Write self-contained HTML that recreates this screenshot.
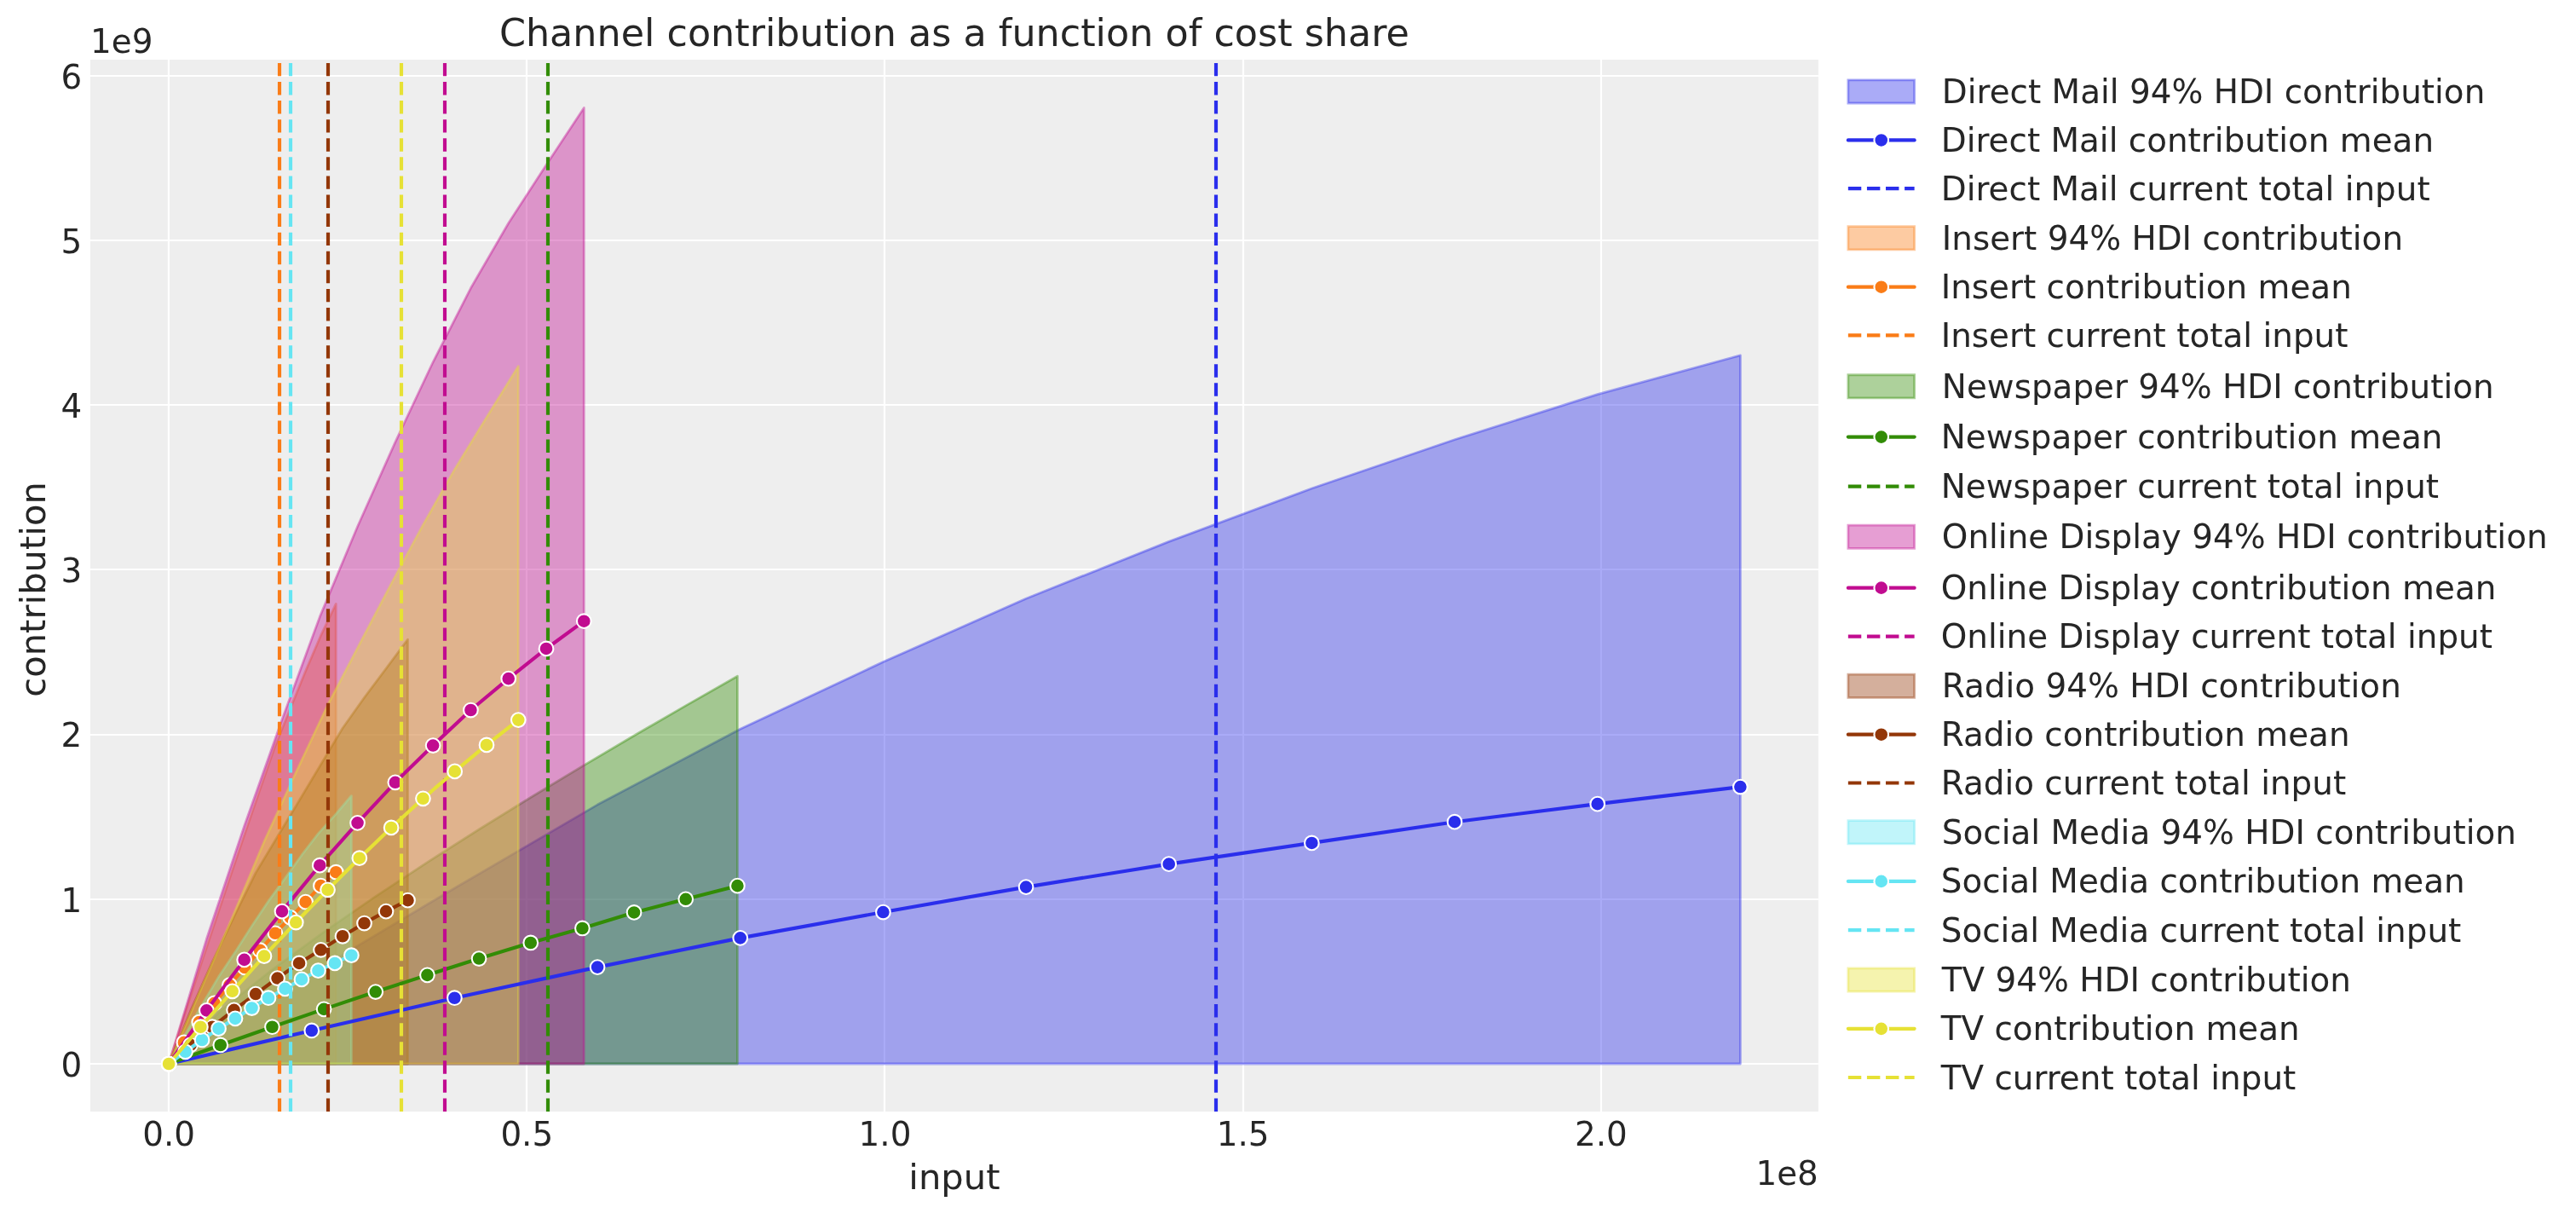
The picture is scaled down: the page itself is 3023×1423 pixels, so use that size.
<!DOCTYPE html>
<html><head><meta charset="utf-8"><title>Channel contribution as a function of cost share</title><style>html,body{margin:0;padding:0;background:#fff;overflow:hidden;}svg{display:block;will-change:transform;}text{font-family:"DejaVu Sans","Liberation Sans",sans-serif;}</style></head>
<body>
<svg width="3023" height="1423" viewBox="0 0 1088.28 512.28" version="1.1">
<defs>
<style type="text/css">*{stroke-linejoin: round; stroke-linecap: butt}</style>
</defs>
<g id="figure_1">
<g id="patch_1">
<path d="M 0 512.28 
L 1088.28 512.28 
L 1088.28 0 
L 0 0 
z
" style="fill: #ffffff"/>
</g>
<g id="axes_1">
<g id="patch_2">
<path d="M 38.16 469.404 
L 768.186 469.404 
L 768.186 25.2 
L 38.16 25.2 
z
" style="fill: #eeeeee"/>
</g>
<g id="line2d_1">
<path d="M 71.28 469.404 
L 71.28 25.2 
" clip-path="url(#p903fa9d953)" style="fill: none; stroke: #ffffff; stroke-width: 0.8; stroke-linecap: square"/>
</g>
<g id="line2d_2">
<path d="M 222.48 469.404 
L 222.48 25.2 
" clip-path="url(#p903fa9d953)" style="fill: none; stroke: #ffffff; stroke-width: 0.8; stroke-linecap: square"/>
</g>
<g id="line2d_3">
<path d="M 373.68 469.404 
L 373.68 25.2 
" clip-path="url(#p903fa9d953)" style="fill: none; stroke: #ffffff; stroke-width: 0.8; stroke-linecap: square"/>
</g>
<g id="line2d_4">
<path d="M 525.24 469.404 
L 525.24 25.2 
" clip-path="url(#p903fa9d953)" style="fill: none; stroke: #ffffff; stroke-width: 0.8; stroke-linecap: square"/>
</g>
<g id="line2d_5">
<path d="M 676.44 469.404 
L 676.44 25.2 
" clip-path="url(#p903fa9d953)" style="fill: none; stroke: #ffffff; stroke-width: 0.8; stroke-linecap: square"/>
</g>
<g id="line2d_6">
<path d="M 38.16 449.28 
L 768.186 449.28 
" clip-path="url(#p903fa9d953)" style="fill: none; stroke: #ffffff; stroke-width: 0.8; stroke-linecap: square"/>
</g>
<g id="line2d_7">
<path d="M 38.16 379.8 
L 768.186 379.8 
" clip-path="url(#p903fa9d953)" style="fill: none; stroke: #ffffff; stroke-width: 0.8; stroke-linecap: square"/>
</g>
<g id="line2d_8">
<path d="M 38.16 310.32 
L 768.186 310.32 
" clip-path="url(#p903fa9d953)" style="fill: none; stroke: #ffffff; stroke-width: 0.8; stroke-linecap: square"/>
</g>
<g id="line2d_9">
<path d="M 38.16 240.48 
L 768.186 240.48 
" clip-path="url(#p903fa9d953)" style="fill: none; stroke: #ffffff; stroke-width: 0.8; stroke-linecap: square"/>
</g>
<g id="line2d_10">
<path d="M 38.16 171 
L 768.186 171 
" clip-path="url(#p903fa9d953)" style="fill: none; stroke: #ffffff; stroke-width: 0.8; stroke-linecap: square"/>
</g>
<g id="line2d_11">
<path d="M 38.16 101.52 
L 768.186 101.52 
" clip-path="url(#p903fa9d953)" style="fill: none; stroke: #ffffff; stroke-width: 0.8; stroke-linecap: square"/>
</g>
<g id="line2d_12">
<path d="M 38.16 32.04 
L 768.186 32.04 
" clip-path="url(#p903fa9d953)" style="fill: none; stroke: #ffffff; stroke-width: 0.8; stroke-linecap: square"/>
</g>
<g id="matplotlib.axis_1">
<g id="xtick_1">
<g id="line2d_13"/>
<g id="text_1">
<text style="font-size: 14px; font-family: 'DejaVu Sans', 'Liberation Sans', sans-serif; text-anchor: middle; fill: #262626" x="71.316" y="483.901813" transform="rotate(-0 71.316 483.901813)">0.0</text>
</g>
</g>
<g id="xtick_2">
<g id="line2d_14"/>
<g id="text_2">
<text style="font-size: 14px; font-family: 'DejaVu Sans', 'Liberation Sans', sans-serif; text-anchor: middle; fill: #262626" x="222.588" y="483.901813" transform="rotate(-0 222.588 483.901813)">0.5</text>
</g>
</g>
<g id="xtick_3">
<g id="line2d_15"/>
<g id="text_3">
<text style="font-size: 14px; font-family: 'DejaVu Sans', 'Liberation Sans', sans-serif; text-anchor: middle; fill: #262626" x="373.86" y="483.901813" transform="rotate(-0 373.86 483.901813)">1.0</text>
</g>
</g>
<g id="xtick_4">
<g id="line2d_16"/>
<g id="text_4">
<text style="font-size: 14px; font-family: 'DejaVu Sans', 'Liberation Sans', sans-serif; text-anchor: middle; fill: #262626" x="525.132" y="483.901813" transform="rotate(-0 525.132 483.901813)">1.5</text>
</g>
</g>
<g id="xtick_5">
<g id="line2d_17"/>
<g id="text_5">
<text style="font-size: 14px; font-family: 'DejaVu Sans', 'Liberation Sans', sans-serif; text-anchor: middle; fill: #262626" x="676.404" y="483.901813" transform="rotate(-0 676.404 483.901813)">2.0</text>
</g>
</g>
<g id="text_6">
<text style="font-size: 15px; font-family: 'DejaVu Sans', 'Liberation Sans', sans-serif; text-anchor: middle; fill: #262626" x="403.173" y="502.211031" transform="rotate(-0 403.173 502.211031)">input</text>
</g>
<g id="text_7">
<text style="font-size: 14px; font-family: 'DejaVu Sans', 'Liberation Sans', sans-serif; text-anchor: end; fill: #262626" x="768.186" y="500.451188" transform="rotate(-0 768.186 500.451188)">1e8</text>
</g>
</g>
<g id="matplotlib.axis_2">
<g id="ytick_1">
<g id="line2d_18"/>
<g id="text_8">
<text style="font-size: 14px; font-family: 'DejaVu Sans', 'Liberation Sans', sans-serif; text-anchor: end; fill: #262626" x="34.66" y="454.598906" transform="rotate(-0 34.66 454.598906)">0</text>
</g>
</g>
<g id="ytick_2">
<g id="line2d_19"/>
<g id="text_9">
<text style="font-size: 14px; font-family: 'DejaVu Sans', 'Liberation Sans', sans-serif; text-anchor: end; fill: #262626" x="34.66" y="385.046906" transform="rotate(-0 34.66 385.046906)">1</text>
</g>
</g>
<g id="ytick_3">
<g id="line2d_20"/>
<g id="text_10">
<text style="font-size: 14px; font-family: 'DejaVu Sans', 'Liberation Sans', sans-serif; text-anchor: end; fill: #262626" x="34.66" y="315.494906" transform="rotate(-0 34.66 315.494906)">2</text>
</g>
</g>
<g id="ytick_4">
<g id="line2d_21"/>
<g id="text_11">
<text style="font-size: 14px; font-family: 'DejaVu Sans', 'Liberation Sans', sans-serif; text-anchor: end; fill: #262626" x="34.66" y="245.942906" transform="rotate(-0 34.66 245.942906)">3</text>
</g>
</g>
<g id="ytick_5">
<g id="line2d_22"/>
<g id="text_12">
<text style="font-size: 14px; font-family: 'DejaVu Sans', 'Liberation Sans', sans-serif; text-anchor: end; fill: #262626" x="34.66" y="176.390906" transform="rotate(-0 34.66 176.390906)">4</text>
</g>
</g>
<g id="ytick_6">
<g id="line2d_23"/>
<g id="text_13">
<text style="font-size: 14px; font-family: 'DejaVu Sans', 'Liberation Sans', sans-serif; text-anchor: end; fill: #262626" x="34.66" y="106.838906" transform="rotate(-0 34.66 106.838906)">5</text>
</g>
</g>
<g id="ytick_7">
<g id="line2d_24"/>
<g id="text_14">
<text style="font-size: 14px; font-family: 'DejaVu Sans', 'Liberation Sans', sans-serif; text-anchor: end; fill: #262626" x="34.66" y="37.286906" transform="rotate(-0 34.66 37.286906)">6</text>
</g>
</g>
<g id="text_15">
<text style="font-size: 15px; font-family: 'DejaVu Sans', 'Liberation Sans', sans-serif; text-anchor: middle; fill: #262626" x="18.920969" y="248.922" transform="rotate(-90 18.920969 248.922)">contribution</text>
</g>
<g id="text_16">
<text style="font-size: 14px; font-family: 'DejaVu Sans', 'Liberation Sans', sans-serif; text-anchor: start; fill: #262626" x="38.16" y="22.2" transform="rotate(-0 38.16 22.2)">1e9</text>
</g>
</g>
<g id="FillBetweenPolyCollection_1">
<defs>
<path id="m16084ed990" d="M 71.316 -63 
L 71.316 -63 
L 131.673273 -63 
L 192.030545 -63 
L 252.387818 -63 
L 312.745091 -63 
L 373.102364 -63 
L 433.459636 -63 
L 493.816909 -63 
L 554.174182 -63 
L 614.531455 -63 
L 674.888727 -63 
L 735.246 -63 
L 735.246 -362.212704 
L 735.246 -362.212704 
L 674.888727 -345.72888 
L 614.531455 -326.60208 
L 554.174182 -306.014688 
L 493.816909 -283.549392 
L 433.459636 -259.4844 
L 373.102364 -232.70688 
L 312.745091 -204.399216 
L 252.387818 -172.405296 
L 192.030545 -137.142432 
L 131.673273 -101.2536 
L 71.316 -63 
z
" style="stroke: #2a2eec; stroke-opacity: 0.4"/>
</defs>
<g clip-path="url(#p903fa9d953)">
<use href="#m16084ed990" x="0" y="512.28" style="fill: #2a2eec; fill-opacity: 0.4; stroke: #2a2eec; stroke-opacity: 0.4"/>
</g>
</g>
<g id="FillBetweenPolyCollection_2">
<defs>
<path id="m55e4fa1a22" d="M 71.316 -63 
L 71.316 -63 
L 77.735455 -63 
L 84.154909 -63 
L 90.574364 -63 
L 96.993818 -63 
L 103.413273 -63 
L 109.832727 -63 
L 116.252182 -63 
L 122.671636 -63 
L 129.091091 -63 
L 135.510545 -63 
L 141.93 -63 
L 141.93 -257.258736 
L 141.93 -257.258736 
L 135.510545 -243.8352 
L 129.091091 -228.88152 
L 122.671636 -213.093216 
L 116.252182 -197.23536 
L 109.832727 -178.873632 
L 103.413273 -160.164144 
L 96.993818 -141.315552 
L 90.574364 -122.1192 
L 84.154909 -102.853296 
L 77.735455 -83.17008 
L 71.316 -63 
z
" style="stroke: #fa7c17; stroke-opacity: 0.4"/>
</defs>
<g clip-path="url(#p903fa9d953)">
<use href="#m55e4fa1a22" x="0" y="512.28" style="fill: #fa7c17; fill-opacity: 0.4; stroke: #fa7c17; stroke-opacity: 0.4"/>
</g>
</g>
<g id="FillBetweenPolyCollection_3">
<defs>
<path id="m92c9b33354" d="M 71.316 -63 
L 71.316 -63 
L 93.154909 -63 
L 114.993818 -63 
L 136.832727 -63 
L 158.671636 -63 
L 180.510545 -63 
L 202.349455 -63 
L 224.188364 -63 
L 246.027273 -63 
L 267.866182 -63 
L 289.705091 -63 
L 311.544 -63 
L 311.544 -226.70649 
L 311.544 -226.70649 
L 289.705091 -214.25508 
L 267.866182 -201.589795 
L 246.027273 -188.682456 
L 224.188364 -175.497104 
L 202.349455 -161.986395 
L 180.510545 -148.085405 
L 158.671636 -133.700057 
L 136.832727 -118.682742 
L 114.993818 -102.770849 
L 93.154909 -85.372266 
L 71.316 -63 
z
" style="stroke: #328c06; stroke-opacity: 0.4"/>
</defs>
<g clip-path="url(#p903fa9d953)">
<use href="#m92c9b33354" x="0" y="512.28" style="fill: #328c06; fill-opacity: 0.4; stroke: #328c06; stroke-opacity: 0.4"/>
</g>
</g>
<g id="FillBetweenPolyCollection_4">
<defs>
<path id="mc65c5cf521" d="M 71.316 -63 
L 71.316 -63 
L 87.260727 -63 
L 103.205455 -63 
L 119.150182 -63 
L 135.094909 -63 
L 151.039636 -63 
L 166.984364 -63 
L 182.929091 -63 
L 198.873818 -63 
L 214.818545 -63 
L 230.763273 -63 
L 246.708 -63 
L 246.708 -466.74936 
L 246.708 -466.74936 
L 230.763273 -442.614816 
L 214.818545 -418.06296 
L 198.873818 -390.58992 
L 182.929091 -359.361072 
L 166.984364 -325.5588 
L 151.039636 -289.878624 
L 135.094909 -251.764128 
L 119.150182 -208.36368 
L 103.205455 -163.433088 
L 87.260727 -115.720416 
L 71.316 -63 
z
" style="stroke: #c10c90; stroke-opacity: 0.4"/>
</defs>
<g clip-path="url(#p903fa9d953)">
<use href="#mc65c5cf521" x="0" y="512.28" style="fill: #c10c90; fill-opacity: 0.4; stroke: #c10c90; stroke-opacity: 0.4"/>
</g>
</g>
<g id="FillBetweenPolyCollection_5">
<defs>
<path id="m451c9147a2" d="M 71.316 -63 
L 71.316 -63 
L 80.492727 -63 
L 89.669455 -63 
L 98.846182 -63 
L 108.022909 -63 
L 117.199636 -63 
L 126.376364 -63 
L 135.553091 -63 
L 144.729818 -63 
L 153.906545 -63 
L 163.083273 -63 
L 172.26 -63 
L 172.26 -242.235504 
L 172.26 -242.235504 
L 163.083273 -229.9248 
L 153.906545 -217.683648 
L 144.729818 -204.746976 
L 135.553091 -189.445536 
L 126.376364 -174.144096 
L 117.199636 -158.912208 
L 108.022909 -143.68032 
L 98.846182 -125.179488 
L 89.669455 -105.913584 
L 80.492727 -85.25664 
L 71.316 -63 
z
" style="stroke: #933708; stroke-opacity: 0.4"/>
</defs>
<g clip-path="url(#p903fa9d953)">
<use href="#m451c9147a2" x="0" y="512.28" style="fill: #933708; fill-opacity: 0.4; stroke: #933708; stroke-opacity: 0.4"/>
</g>
</g>
<g id="FillBetweenPolyCollection_6">
<defs>
<path id="me2ba75fa4d" d="M 71.316 -63 
L 71.316 -63 
L 78.329455 -63 
L 85.342909 -63 
L 92.356364 -63 
L 99.369818 -63 
L 106.383273 -63 
L 113.396727 -63 
L 120.410182 -63 
L 127.423636 -63 
L 134.437091 -63 
L 141.450545 -63 
L 148.464 -63 
L 148.464 -176.211877 
L 148.464 -176.211877 
L 141.450545 -167.965792 
L 134.437091 -160.235087 
L 127.423636 -151.130035 
L 120.410182 -141.337809 
L 113.396727 -131.717376 
L 106.383273 -121.237976 
L 99.369818 -110.243196 
L 92.356364 -99.763796 
L 85.342909 -87.910049 
L 78.329455 -75.626818 
L 71.316 -63 
z
" style="stroke: #65e5f3; stroke-opacity: 0.4"/>
</defs>
<g clip-path="url(#p903fa9d953)">
<use href="#me2ba75fa4d" x="0" y="512.28" style="fill: #65e5f3; fill-opacity: 0.4; stroke: #65e5f3; stroke-opacity: 0.4"/>
</g>
</g>
<g id="FillBetweenPolyCollection_7">
<defs>
<path id="m84d1ce66fc" d="M 71.316 -63 
L 71.316 -63 
L 84.740727 -63 
L 98.165455 -63 
L 111.590182 -63 
L 125.014909 -63 
L 138.439636 -63 
L 151.864364 -63 
L 165.289091 -63 
L 178.713818 -63 
L 192.138545 -63 
L 205.563273 -63 
L 218.988 -63 
L 218.988 -357.622272 
L 218.988 -357.622272 
L 205.563273 -336.061152 
L 192.138545 -314.221824 
L 178.713818 -290.643696 
L 165.289091 -265.813632 
L 151.864364 -240.218496 
L 138.439636 -214.553808 
L 125.014909 -186.10704 
L 111.590182 -156.8952 
L 98.165455 -124.90128 
L 84.740727 -94.2984 
L 71.316 -63 
z
" style="stroke: #e6e135; stroke-opacity: 0.4"/>
</defs>
<g clip-path="url(#p903fa9d953)">
<use href="#m84d1ce66fc" x="0" y="512.28" style="fill: #e6e135; fill-opacity: 0.4; stroke: #e6e135; stroke-opacity: 0.4"/>
</g>
</g>
<g id="line2d_25">
<path d="M 71.316 449.28 
L 131.673273 435.230496 
L 192.030545 421.4592 
L 252.387818 408.452976 
L 312.745091 396.142272 
L 373.102364 385.222608 
L 433.459636 374.615928 
L 493.816909 364.913424 
L 554.174182 356.010768 
L 614.531455 347.108112 
L 674.888727 339.526944 
L 735.246 332.293536 
" clip-path="url(#p903fa9d953)" style="fill: none; stroke: #2a2eec; stroke-width: 1.5; stroke-linecap: round"/>
<defs>
<path id="m1112f3b862" d="M 0 3 
C 0.795609 3 1.55874 2.683901 2.12132 2.12132 
C 2.683901 1.55874 3 0.795609 3 0 
C 3 -0.795609 2.683901 -1.55874 2.12132 -2.12132 
C 1.55874 -2.683901 0.795609 -3 0 -3 
C -0.795609 -3 -1.55874 -2.683901 -2.12132 -2.12132 
C -2.683901 -1.55874 -3 -0.795609 -3 0 
C -3 0.795609 -2.683901 1.55874 -2.12132 2.12132 
C -1.55874 2.683901 -0.795609 3 0 3 
z
" style="stroke: #ffffff; stroke-width: 0.75"/>
</defs>
<g clip-path="url(#p903fa9d953)">
<use href="#m1112f3b862" x="71.316" y="449.28" style="fill: #2a2eec; stroke: #ffffff; stroke-width: 0.75"/>
<use href="#m1112f3b862" x="131.673273" y="435.230496" style="fill: #2a2eec; stroke: #ffffff; stroke-width: 0.75"/>
<use href="#m1112f3b862" x="192.030545" y="421.4592" style="fill: #2a2eec; stroke: #ffffff; stroke-width: 0.75"/>
<use href="#m1112f3b862" x="252.387818" y="408.452976" style="fill: #2a2eec; stroke: #ffffff; stroke-width: 0.75"/>
<use href="#m1112f3b862" x="312.745091" y="396.142272" style="fill: #2a2eec; stroke: #ffffff; stroke-width: 0.75"/>
<use href="#m1112f3b862" x="373.102364" y="385.222608" style="fill: #2a2eec; stroke: #ffffff; stroke-width: 0.75"/>
<use href="#m1112f3b862" x="433.459636" y="374.615928" style="fill: #2a2eec; stroke: #ffffff; stroke-width: 0.75"/>
<use href="#m1112f3b862" x="493.816909" y="364.913424" style="fill: #2a2eec; stroke: #ffffff; stroke-width: 0.75"/>
<use href="#m1112f3b862" x="554.174182" y="356.010768" style="fill: #2a2eec; stroke: #ffffff; stroke-width: 0.75"/>
<use href="#m1112f3b862" x="614.531455" y="347.108112" style="fill: #2a2eec; stroke: #ffffff; stroke-width: 0.75"/>
<use href="#m1112f3b862" x="674.888727" y="339.526944" style="fill: #2a2eec; stroke: #ffffff; stroke-width: 0.75"/>
<use href="#m1112f3b862" x="735.246" y="332.293536" style="fill: #2a2eec; stroke: #ffffff; stroke-width: 0.75"/>
</g>
</g>
<g id="line2d_26">
<path d="M 513.72 469.404 
L 513.72 25.2 
" clip-path="url(#p903fa9d953)" style="fill: none; stroke-dasharray: 5.55,2.4; stroke-dashoffset: 0; stroke: #2a2eec; stroke-width: 1.5"/>
</g>
<g id="line2d_27">
<path d="M 71.316 449.28 
L 77.735455 440.23824 
L 84.154909 431.683344 
L 90.574364 423.684864 
L 96.993818 416.034144 
L 103.413273 408.59208 
L 109.832727 401.28912 
L 116.252182 394.125264 
L 122.671636 387.517824 
L 129.091091 380.910384 
L 135.510545 374.094288 
L 141.93 368.356248 
" clip-path="url(#p903fa9d953)" style="fill: none; stroke: #fa7c17; stroke-width: 1.5; stroke-linecap: round"/>
<defs>
<path id="m5bd5c11e2f" d="M 0 3 
C 0.795609 3 1.55874 2.683901 2.12132 2.12132 
C 2.683901 1.55874 3 0.795609 3 0 
C 3 -0.795609 2.683901 -1.55874 2.12132 -2.12132 
C 1.55874 -2.683901 0.795609 -3 0 -3 
C -0.795609 -3 -1.55874 -2.683901 -2.12132 -2.12132 
C -2.683901 -1.55874 -3 -0.795609 -3 0 
C -3 0.795609 -2.683901 1.55874 -2.12132 2.12132 
C -1.55874 2.683901 -0.795609 3 0 3 
z
" style="stroke: #ffffff; stroke-width: 0.75"/>
</defs>
<g clip-path="url(#p903fa9d953)">
<use href="#m5bd5c11e2f" x="71.316" y="449.28" style="fill: #fa7c17; stroke: #ffffff; stroke-width: 0.75"/>
<use href="#m5bd5c11e2f" x="77.735455" y="440.23824" style="fill: #fa7c17; stroke: #ffffff; stroke-width: 0.75"/>
<use href="#m5bd5c11e2f" x="84.154909" y="431.683344" style="fill: #fa7c17; stroke: #ffffff; stroke-width: 0.75"/>
<use href="#m5bd5c11e2f" x="90.574364" y="423.684864" style="fill: #fa7c17; stroke: #ffffff; stroke-width: 0.75"/>
<use href="#m5bd5c11e2f" x="96.993818" y="416.034144" style="fill: #fa7c17; stroke: #ffffff; stroke-width: 0.75"/>
<use href="#m5bd5c11e2f" x="103.413273" y="408.59208" style="fill: #fa7c17; stroke: #ffffff; stroke-width: 0.75"/>
<use href="#m5bd5c11e2f" x="109.832727" y="401.28912" style="fill: #fa7c17; stroke: #ffffff; stroke-width: 0.75"/>
<use href="#m5bd5c11e2f" x="116.252182" y="394.125264" style="fill: #fa7c17; stroke: #ffffff; stroke-width: 0.75"/>
<use href="#m5bd5c11e2f" x="122.671636" y="387.517824" style="fill: #fa7c17; stroke: #ffffff; stroke-width: 0.75"/>
<use href="#m5bd5c11e2f" x="129.091091" y="380.910384" style="fill: #fa7c17; stroke: #ffffff; stroke-width: 0.75"/>
<use href="#m5bd5c11e2f" x="135.510545" y="374.094288" style="fill: #fa7c17; stroke: #ffffff; stroke-width: 0.75"/>
<use href="#m5bd5c11e2f" x="141.93" y="368.356248" style="fill: #fa7c17; stroke: #ffffff; stroke-width: 0.75"/>
</g>
</g>
<g id="line2d_28">
<path d="M 118.08 469.404 
L 118.08 25.2 
" clip-path="url(#p903fa9d953)" style="fill: none; stroke-dasharray: 5.55,2.4; stroke-dashoffset: 0; stroke: #fa7c17; stroke-width: 1.5"/>
</g>
<g id="line2d_29">
<path d="M 71.316 449.28 
L 93.154909 441.351072 
L 114.993818 433.700352 
L 136.832727 426.188736 
L 158.671636 418.885776 
L 180.510545 411.791472 
L 202.349455 404.836272 
L 224.188364 398.15928 
L 246.027273 392.038704 
L 267.866182 385.361712 
L 289.705091 379.728 
L 311.544 374.094288 
" clip-path="url(#p903fa9d953)" style="fill: none; stroke: #328c06; stroke-width: 1.5; stroke-linecap: round"/>
<defs>
<path id="md023e32610" d="M 0 3 
C 0.795609 3 1.55874 2.683901 2.12132 2.12132 
C 2.683901 1.55874 3 0.795609 3 0 
C 3 -0.795609 2.683901 -1.55874 2.12132 -2.12132 
C 1.55874 -2.683901 0.795609 -3 0 -3 
C -0.795609 -3 -1.55874 -2.683901 -2.12132 -2.12132 
C -2.683901 -1.55874 -3 -0.795609 -3 0 
C -3 0.795609 -2.683901 1.55874 -2.12132 2.12132 
C -1.55874 2.683901 -0.795609 3 0 3 
z
" style="stroke: #ffffff; stroke-width: 0.75"/>
</defs>
<g clip-path="url(#p903fa9d953)">
<use href="#md023e32610" x="71.316" y="449.28" style="fill: #328c06; stroke: #ffffff; stroke-width: 0.75"/>
<use href="#md023e32610" x="93.154909" y="441.351072" style="fill: #328c06; stroke: #ffffff; stroke-width: 0.75"/>
<use href="#md023e32610" x="114.993818" y="433.700352" style="fill: #328c06; stroke: #ffffff; stroke-width: 0.75"/>
<use href="#md023e32610" x="136.832727" y="426.188736" style="fill: #328c06; stroke: #ffffff; stroke-width: 0.75"/>
<use href="#md023e32610" x="158.671636" y="418.885776" style="fill: #328c06; stroke: #ffffff; stroke-width: 0.75"/>
<use href="#md023e32610" x="180.510545" y="411.791472" style="fill: #328c06; stroke: #ffffff; stroke-width: 0.75"/>
<use href="#md023e32610" x="202.349455" y="404.836272" style="fill: #328c06; stroke: #ffffff; stroke-width: 0.75"/>
<use href="#md023e32610" x="224.188364" y="398.15928" style="fill: #328c06; stroke: #ffffff; stroke-width: 0.75"/>
<use href="#md023e32610" x="246.027273" y="392.038704" style="fill: #328c06; stroke: #ffffff; stroke-width: 0.75"/>
<use href="#md023e32610" x="267.866182" y="385.361712" style="fill: #328c06; stroke: #ffffff; stroke-width: 0.75"/>
<use href="#md023e32610" x="289.705091" y="379.728" style="fill: #328c06; stroke: #ffffff; stroke-width: 0.75"/>
<use href="#md023e32610" x="311.544" y="374.094288" style="fill: #328c06; stroke: #ffffff; stroke-width: 0.75"/>
</g>
</g>
<g id="line2d_30">
<path d="M 231.48 469.404 
L 231.48 25.2 
" clip-path="url(#p903fa9d953)" style="fill: none; stroke-dasharray: 5.55,2.4; stroke-dashoffset: 0; stroke: #328c06; stroke-width: 1.5"/>
</g>
<g id="line2d_31">
<path d="M 71.316 449.28 
L 87.260727 426.745152 
L 103.205455 405.323136 
L 119.150182 384.874848 
L 135.094909 365.46984 
L 151.039636 347.525424 
L 166.984364 330.415632 
L 182.929091 314.835984 
L 198.873818 299.882304 
L 214.818545 286.597872 
L 230.763273 273.939408 
L 246.708 262.324224 
" clip-path="url(#p903fa9d953)" style="fill: none; stroke: #c10c90; stroke-width: 1.5; stroke-linecap: round"/>
<defs>
<path id="m91050b80d1" d="M 0 3 
C 0.795609 3 1.55874 2.683901 2.12132 2.12132 
C 2.683901 1.55874 3 0.795609 3 0 
C 3 -0.795609 2.683901 -1.55874 2.12132 -2.12132 
C 1.55874 -2.683901 0.795609 -3 0 -3 
C -0.795609 -3 -1.55874 -2.683901 -2.12132 -2.12132 
C -2.683901 -1.55874 -3 -0.795609 -3 0 
C -3 0.795609 -2.683901 1.55874 -2.12132 2.12132 
C -1.55874 2.683901 -0.795609 3 0 3 
z
" style="stroke: #ffffff; stroke-width: 0.75"/>
</defs>
<g clip-path="url(#p903fa9d953)">
<use href="#m91050b80d1" x="71.316" y="449.28" style="fill: #c10c90; stroke: #ffffff; stroke-width: 0.75"/>
<use href="#m91050b80d1" x="87.260727" y="426.745152" style="fill: #c10c90; stroke: #ffffff; stroke-width: 0.75"/>
<use href="#m91050b80d1" x="103.205455" y="405.323136" style="fill: #c10c90; stroke: #ffffff; stroke-width: 0.75"/>
<use href="#m91050b80d1" x="119.150182" y="384.874848" style="fill: #c10c90; stroke: #ffffff; stroke-width: 0.75"/>
<use href="#m91050b80d1" x="135.094909" y="365.46984" style="fill: #c10c90; stroke: #ffffff; stroke-width: 0.75"/>
<use href="#m91050b80d1" x="151.039636" y="347.525424" style="fill: #c10c90; stroke: #ffffff; stroke-width: 0.75"/>
<use href="#m91050b80d1" x="166.984364" y="330.415632" style="fill: #c10c90; stroke: #ffffff; stroke-width: 0.75"/>
<use href="#m91050b80d1" x="182.929091" y="314.835984" style="fill: #c10c90; stroke: #ffffff; stroke-width: 0.75"/>
<use href="#m91050b80d1" x="198.873818" y="299.882304" style="fill: #c10c90; stroke: #ffffff; stroke-width: 0.75"/>
<use href="#m91050b80d1" x="214.818545" y="286.597872" style="fill: #c10c90; stroke: #ffffff; stroke-width: 0.75"/>
<use href="#m91050b80d1" x="230.763273" y="273.939408" style="fill: #c10c90; stroke: #ffffff; stroke-width: 0.75"/>
<use href="#m91050b80d1" x="246.708" y="262.324224" style="fill: #c10c90; stroke: #ffffff; stroke-width: 0.75"/>
</g>
</g>
<g id="line2d_32">
<path d="M 187.92 469.404 
L 187.92 25.2 
" clip-path="url(#p903fa9d953)" style="fill: none; stroke-dasharray: 5.55,2.4; stroke-dashoffset: 0; stroke: #c10c90; stroke-width: 1.5"/>
</g>
<g id="line2d_33">
<path d="M 71.316 449.28 
L 80.492727 441.28152 
L 89.669455 433.700352 
L 98.846182 426.536496 
L 108.022909 419.789952 
L 117.199636 413.11296 
L 126.376364 406.783728 
L 135.553091 401.150016 
L 144.729818 395.3772 
L 153.906545 389.882592 
L 163.083273 384.874848 
L 172.26 380.214864 
" clip-path="url(#p903fa9d953)" style="fill: none; stroke: #933708; stroke-width: 1.5; stroke-linecap: round"/>
<defs>
<path id="m6694433b43" d="M 0 3 
C 0.795609 3 1.55874 2.683901 2.12132 2.12132 
C 2.683901 1.55874 3 0.795609 3 0 
C 3 -0.795609 2.683901 -1.55874 2.12132 -2.12132 
C 1.55874 -2.683901 0.795609 -3 0 -3 
C -0.795609 -3 -1.55874 -2.683901 -2.12132 -2.12132 
C -2.683901 -1.55874 -3 -0.795609 -3 0 
C -3 0.795609 -2.683901 1.55874 -2.12132 2.12132 
C -1.55874 2.683901 -0.795609 3 0 3 
z
" style="stroke: #ffffff; stroke-width: 0.75"/>
</defs>
<g clip-path="url(#p903fa9d953)">
<use href="#m6694433b43" x="71.316" y="449.28" style="fill: #933708; stroke: #ffffff; stroke-width: 0.75"/>
<use href="#m6694433b43" x="80.492727" y="441.28152" style="fill: #933708; stroke: #ffffff; stroke-width: 0.75"/>
<use href="#m6694433b43" x="89.669455" y="433.700352" style="fill: #933708; stroke: #ffffff; stroke-width: 0.75"/>
<use href="#m6694433b43" x="98.846182" y="426.536496" style="fill: #933708; stroke: #ffffff; stroke-width: 0.75"/>
<use href="#m6694433b43" x="108.022909" y="419.789952" style="fill: #933708; stroke: #ffffff; stroke-width: 0.75"/>
<use href="#m6694433b43" x="117.199636" y="413.11296" style="fill: #933708; stroke: #ffffff; stroke-width: 0.75"/>
<use href="#m6694433b43" x="126.376364" y="406.783728" style="fill: #933708; stroke: #ffffff; stroke-width: 0.75"/>
<use href="#m6694433b43" x="135.553091" y="401.150016" style="fill: #933708; stroke: #ffffff; stroke-width: 0.75"/>
<use href="#m6694433b43" x="144.729818" y="395.3772" style="fill: #933708; stroke: #ffffff; stroke-width: 0.75"/>
<use href="#m6694433b43" x="153.906545" y="389.882592" style="fill: #933708; stroke: #ffffff; stroke-width: 0.75"/>
<use href="#m6694433b43" x="163.083273" y="384.874848" style="fill: #933708; stroke: #ffffff; stroke-width: 0.75"/>
<use href="#m6694433b43" x="172.26" y="380.214864" style="fill: #933708; stroke: #ffffff; stroke-width: 0.75"/>
</g>
</g>
<g id="line2d_34">
<path d="M 138.6 469.404 
L 138.6 25.2 
" clip-path="url(#p903fa9d953)" style="fill: none; stroke-dasharray: 5.55,2.4; stroke-dashoffset: 0; stroke: #933708; stroke-width: 1.5"/>
</g>
<g id="line2d_35">
<path d="M 71.316 449.28 
L 78.329455 444.167928 
L 85.342909 439.19496 
L 92.356364 434.395872 
L 99.369818 430.1532 
L 106.383273 425.701872 
L 113.396727 421.4592 
L 120.410182 417.564288 
L 127.423636 413.599824 
L 134.437091 409.913568 
L 141.450545 406.783728 
L 148.464 403.445232 
" clip-path="url(#p903fa9d953)" style="fill: none; stroke: #65e5f3; stroke-width: 1.5; stroke-linecap: round"/>
<defs>
<path id="md48689d4b8" d="M 0 3 
C 0.795609 3 1.55874 2.683901 2.12132 2.12132 
C 2.683901 1.55874 3 0.795609 3 0 
C 3 -0.795609 2.683901 -1.55874 2.12132 -2.12132 
C 1.55874 -2.683901 0.795609 -3 0 -3 
C -0.795609 -3 -1.55874 -2.683901 -2.12132 -2.12132 
C -2.683901 -1.55874 -3 -0.795609 -3 0 
C -3 0.795609 -2.683901 1.55874 -2.12132 2.12132 
C -1.55874 2.683901 -0.795609 3 0 3 
z
" style="stroke: #ffffff; stroke-width: 0.75"/>
</defs>
<g clip-path="url(#p903fa9d953)">
<use href="#md48689d4b8" x="71.316" y="449.28" style="fill: #65e5f3; stroke: #ffffff; stroke-width: 0.75"/>
<use href="#md48689d4b8" x="78.329455" y="444.167928" style="fill: #65e5f3; stroke: #ffffff; stroke-width: 0.75"/>
<use href="#md48689d4b8" x="85.342909" y="439.19496" style="fill: #65e5f3; stroke: #ffffff; stroke-width: 0.75"/>
<use href="#md48689d4b8" x="92.356364" y="434.395872" style="fill: #65e5f3; stroke: #ffffff; stroke-width: 0.75"/>
<use href="#md48689d4b8" x="99.369818" y="430.1532" style="fill: #65e5f3; stroke: #ffffff; stroke-width: 0.75"/>
<use href="#md48689d4b8" x="106.383273" y="425.701872" style="fill: #65e5f3; stroke: #ffffff; stroke-width: 0.75"/>
<use href="#md48689d4b8" x="113.396727" y="421.4592" style="fill: #65e5f3; stroke: #ffffff; stroke-width: 0.75"/>
<use href="#md48689d4b8" x="120.410182" y="417.564288" style="fill: #65e5f3; stroke: #ffffff; stroke-width: 0.75"/>
<use href="#md48689d4b8" x="127.423636" y="413.599824" style="fill: #65e5f3; stroke: #ffffff; stroke-width: 0.75"/>
<use href="#md48689d4b8" x="134.437091" y="409.913568" style="fill: #65e5f3; stroke: #ffffff; stroke-width: 0.75"/>
<use href="#md48689d4b8" x="141.450545" y="406.783728" style="fill: #65e5f3; stroke: #ffffff; stroke-width: 0.75"/>
<use href="#md48689d4b8" x="148.464" y="403.445232" style="fill: #65e5f3; stroke: #ffffff; stroke-width: 0.75"/>
</g>
</g>
<g id="line2d_36">
<path d="M 122.76 469.404 
L 122.76 25.2 
" clip-path="url(#p903fa9d953)" style="fill: none; stroke-dasharray: 5.55,2.4; stroke-dashoffset: 0; stroke: #65e5f3; stroke-width: 1.5"/>
</g>
<g id="line2d_37">
<path d="M 71.316 449.28 
L 84.740727 433.700352 
L 98.165455 418.607568 
L 111.590182 403.792992 
L 125.014909 389.534832 
L 138.439636 375.763536 
L 151.864364 362.409552 
L 165.289091 349.542432 
L 178.713818 337.231728 
L 192.138545 325.755648 
L 205.563273 314.627328 
L 218.988 304.055424 
" clip-path="url(#p903fa9d953)" style="fill: none; stroke: #e6e135; stroke-width: 1.5; stroke-linecap: round"/>
<defs>
<path id="m30235572fa" d="M 0 3 
C 0.795609 3 1.55874 2.683901 2.12132 2.12132 
C 2.683901 1.55874 3 0.795609 3 0 
C 3 -0.795609 2.683901 -1.55874 2.12132 -2.12132 
C 1.55874 -2.683901 0.795609 -3 0 -3 
C -0.795609 -3 -1.55874 -2.683901 -2.12132 -2.12132 
C -2.683901 -1.55874 -3 -0.795609 -3 0 
C -3 0.795609 -2.683901 1.55874 -2.12132 2.12132 
C -1.55874 2.683901 -0.795609 3 0 3 
z
" style="stroke: #ffffff; stroke-width: 0.75"/>
</defs>
<g clip-path="url(#p903fa9d953)">
<use href="#m30235572fa" x="71.316" y="449.28" style="fill: #e6e135; stroke: #ffffff; stroke-width: 0.75"/>
<use href="#m30235572fa" x="84.740727" y="433.700352" style="fill: #e6e135; stroke: #ffffff; stroke-width: 0.75"/>
<use href="#m30235572fa" x="98.165455" y="418.607568" style="fill: #e6e135; stroke: #ffffff; stroke-width: 0.75"/>
<use href="#m30235572fa" x="111.590182" y="403.792992" style="fill: #e6e135; stroke: #ffffff; stroke-width: 0.75"/>
<use href="#m30235572fa" x="125.014909" y="389.534832" style="fill: #e6e135; stroke: #ffffff; stroke-width: 0.75"/>
<use href="#m30235572fa" x="138.439636" y="375.763536" style="fill: #e6e135; stroke: #ffffff; stroke-width: 0.75"/>
<use href="#m30235572fa" x="151.864364" y="362.409552" style="fill: #e6e135; stroke: #ffffff; stroke-width: 0.75"/>
<use href="#m30235572fa" x="165.289091" y="349.542432" style="fill: #e6e135; stroke: #ffffff; stroke-width: 0.75"/>
<use href="#m30235572fa" x="178.713818" y="337.231728" style="fill: #e6e135; stroke: #ffffff; stroke-width: 0.75"/>
<use href="#m30235572fa" x="192.138545" y="325.755648" style="fill: #e6e135; stroke: #ffffff; stroke-width: 0.75"/>
<use href="#m30235572fa" x="205.563273" y="314.627328" style="fill: #e6e135; stroke: #ffffff; stroke-width: 0.75"/>
<use href="#m30235572fa" x="218.988" y="304.055424" style="fill: #e6e135; stroke: #ffffff; stroke-width: 0.75"/>
</g>
</g>
<g id="line2d_38">
<path d="M 169.56 469.404 
L 169.56 25.2 
" clip-path="url(#p903fa9d953)" style="fill: none; stroke-dasharray: 5.55,2.4; stroke-dashoffset: 0; stroke: #e6e135; stroke-width: 1.5"/>
</g>
<g id="text_17">
<text style="font-size: 16px; font-family: 'DejaVu Sans', 'Liberation Sans', sans-serif; text-anchor: middle; fill: #262626" x="403.173" y="19.596" transform="rotate(-0 403.173 19.596)">Channel contribution as a function of cost share</text>
</g>
<g id="legend_1">
<g id="patch_3" transform="translate(0.0000 0.0202)">
<path d="M 780.786 43.539826 
L 808.786 43.539826 
L 808.786 33.739826 
L 780.786 33.739826 
z
" style="fill: #2a2eec; fill-opacity: 0.4; stroke: #2a2eec; stroke-opacity: 0.4; stroke-linejoin: miter"/>
</g>
<g id="text_18" transform="translate(0.3960 0.0202)">
<text style="font-size: 14px; font-family: 'DejaVu Sans', 'Liberation Sans', sans-serif; text-anchor: start; fill: #262626" x="819.986" y="43.539826" transform="rotate(-0 819.986 43.539826)">Direct Mail 94% HDI contribution</text>
</g>
<g id="line2d_39" transform="translate(0.0000 -0.2852)">
<path d="M 780.786 59.483201 
L 794.786 59.483201 
L 808.786 59.483201 
" style="fill: none; stroke: #2a2eec; stroke-width: 1.5; stroke-linecap: round"/>
<g>
<use href="#m1112f3b862" x="794.786" y="59.483201" style="fill: #2a2eec; stroke: #ffffff; stroke-width: 0.75"/>
</g>
</g>
<g id="text_19" transform="translate(0.0000 -0.2852)">
<text style="font-size: 14px; font-family: 'DejaVu Sans', 'Liberation Sans', sans-serif; text-anchor: start; fill: #262626" x="819.986" y="64.383201" transform="rotate(-0 819.986 64.383201)">Direct Mail contribution mean</text>
</g>
<g id="line2d_40" transform="translate(0.0000 -0.6986)">
<path d="M 780.786 80.326576 
L 794.786 80.326576 
L 808.786 80.326576 
" style="fill: none; stroke-dasharray: 5.55,2.4; stroke-dashoffset: 0; stroke: #2a2eec; stroke-width: 1.5"/>
</g>
<g id="text_20" transform="translate(0.0000 -0.6986)">
<text style="font-size: 14px; font-family: 'DejaVu Sans', 'Liberation Sans', sans-serif; text-anchor: start; fill: #262626" x="819.986" y="85.226576" transform="rotate(-0 819.986 85.226576)">Direct Mail current total input</text>
</g>
<g id="patch_4" transform="translate(0.0000 -0.6080)">
<path d="M 780.786 106.069951 
L 808.786 106.069951 
L 808.786 96.269951 
L 780.786 96.269951 
z
" style="fill: #fa7c17; fill-opacity: 0.4; stroke: #fa7c17; stroke-opacity: 0.4; stroke-linejoin: miter"/>
</g>
<g id="text_21" transform="translate(0.3960 -0.6080)">
<text style="font-size: 14px; font-family: 'DejaVu Sans', 'Liberation Sans', sans-serif; text-anchor: start; fill: #262626" x="819.986" y="106.069951" transform="rotate(-0 819.986 106.069951)">Insert 94% HDI contribution</text>
</g>
<g id="line2d_41" transform="translate(0.0000 -0.8053)">
<path d="M 780.786 122.013326 
L 794.786 122.013326 
L 808.786 122.013326 
" style="fill: none; stroke: #fa7c17; stroke-width: 1.5; stroke-linecap: round"/>
<g>
<use href="#m5bd5c11e2f" x="794.786" y="122.013326" style="fill: #fa7c17; stroke: #ffffff; stroke-width: 0.75"/>
</g>
</g>
<g id="text_22" transform="translate(0.0000 -0.8053)">
<text style="font-size: 14px; font-family: 'DejaVu Sans', 'Liberation Sans', sans-serif; text-anchor: start; fill: #262626" x="819.986" y="126.913326" transform="rotate(-0 819.986 126.913326)">Insert contribution mean</text>
</g>
<g id="line2d_42" transform="translate(0.0000 -1.2367)">
<path d="M 780.786 142.856701 
L 794.786 142.856701 
L 808.786 142.856701 
" style="fill: none; stroke-dasharray: 5.55,2.4; stroke-dashoffset: 0; stroke: #fa7c17; stroke-width: 1.5"/>
</g>
<g id="text_23" transform="translate(0.0000 -1.2367)">
<text style="font-size: 14px; font-family: 'DejaVu Sans', 'Liberation Sans', sans-serif; text-anchor: start; fill: #262626" x="819.986" y="147.756701" transform="rotate(-0 819.986 147.756701)">Insert current total input</text>
</g>
<g id="patch_5" transform="translate(0.0000 -0.4873)">
<path d="M 780.786 168.600076 
L 808.786 168.600076 
L 808.786 158.800076 
L 780.786 158.800076 
z
" style="fill: #328c06; fill-opacity: 0.4; stroke: #328c06; stroke-opacity: 0.4; stroke-linejoin: miter"/>
</g>
<g id="text_24" transform="translate(0.3960 -0.4873)">
<text style="font-size: 14px; font-family: 'DejaVu Sans', 'Liberation Sans', sans-serif; text-anchor: start; fill: #262626" x="819.986" y="168.600076" transform="rotate(-0 819.986 168.600076)">Newspaper 94% HDI contribution</text>
</g>
<g id="line2d_43" transform="translate(0.0000 -0.0115)">
<path d="M 780.786 184.543451 
L 794.786 184.543451 
L 808.786 184.543451 
" style="fill: none; stroke: #328c06; stroke-width: 1.5; stroke-linecap: round"/>
<g>
<use href="#md023e32610" x="794.786" y="184.543451" style="fill: #328c06; stroke: #ffffff; stroke-width: 0.75"/>
</g>
</g>
<g id="text_25" transform="translate(0.0000 -0.0115)">
<text style="font-size: 14px; font-family: 'DejaVu Sans', 'Liberation Sans', sans-serif; text-anchor: start; fill: #262626" x="819.986" y="189.443451" transform="rotate(-0 819.986 189.443451)">Newspaper contribution mean</text>
</g>
<g id="line2d_44" transform="translate(0.0000 0.0252)">
<path d="M 780.786 205.386826 
L 794.786 205.386826 
L 808.786 205.386826 
" style="fill: none; stroke-dasharray: 5.55,2.4; stroke-dashoffset: 0; stroke: #328c06; stroke-width: 1.5"/>
</g>
<g id="text_26" transform="translate(0.0000 0.0252)">
<text style="font-size: 14px; font-family: 'DejaVu Sans', 'Liberation Sans', sans-serif; text-anchor: start; fill: #262626" x="819.986" y="210.286826" transform="rotate(-0 819.986 210.286826)">Newspaper current total input</text>
</g>
<g id="patch_6" transform="translate(0.0000 0.4758)">
<path d="M 780.786 231.130201 
L 808.786 231.130201 
L 808.786 221.330201 
L 780.786 221.330201 
z
" style="fill: #c10c90; fill-opacity: 0.4; stroke: #c10c90; stroke-opacity: 0.4; stroke-linejoin: miter"/>
</g>
<g id="text_27" transform="translate(0.3960 0.4758)">
<text style="font-size: 14px; font-family: 'DejaVu Sans', 'Liberation Sans', sans-serif; text-anchor: start; fill: #262626" x="819.986" y="231.130201" transform="rotate(-0 819.986 231.130201)">Online Display 94% HDI contribution</text>
</g>
<g id="line2d_45" transform="translate(0.0000 1.1964)">
<path d="M 780.786 247.073576 
L 794.786 247.073576 
L 808.786 247.073576 
" style="fill: none; stroke: #c10c90; stroke-width: 1.5; stroke-linecap: round"/>
<g>
<use href="#m91050b80d1" x="794.786" y="247.073576" style="fill: #c10c90; stroke: #ffffff; stroke-width: 0.75"/>
</g>
</g>
<g id="text_28" transform="translate(0.0000 1.1964)">
<text style="font-size: 14px; font-family: 'DejaVu Sans', 'Liberation Sans', sans-serif; text-anchor: start; fill: #262626" x="819.986" y="251.973576" transform="rotate(-0 819.986 251.973576)">Online Display contribution mean</text>
</g>
<g id="line2d_46" transform="translate(0.0000 0.8730)">
<path d="M 780.786 267.916951 
L 794.786 267.916951 
L 808.786 267.916951 
" style="fill: none; stroke-dasharray: 5.55,2.4; stroke-dashoffset: 0; stroke: #c10c90; stroke-width: 1.5"/>
</g>
<g id="text_29" transform="translate(0.0000 0.8730)">
<text style="font-size: 14px; font-family: 'DejaVu Sans', 'Liberation Sans', sans-serif; text-anchor: start; fill: #262626" x="819.986" y="272.816951" transform="rotate(-0 819.986 272.816951)">Online Display current total input</text>
</g>
<g id="patch_7" transform="translate(0.0000 0.9637)">
<path d="M 780.786 293.660326 
L 808.786 293.660326 
L 808.786 283.860326 
L 780.786 283.860326 
z
" style="fill: #933708; fill-opacity: 0.4; stroke: #933708; stroke-opacity: 0.4; stroke-linejoin: miter"/>
</g>
<g id="text_30" transform="translate(0.3960 0.9637)">
<text style="font-size: 14px; font-family: 'DejaVu Sans', 'Liberation Sans', sans-serif; text-anchor: start; fill: #262626" x="819.986" y="293.660326" transform="rotate(-0 819.986 293.660326)">Radio 94% HDI contribution</text>
</g>
<g id="line2d_47" transform="translate(0.0000 0.6043)">
<path d="M 780.786 309.603701 
L 794.786 309.603701 
L 808.786 309.603701 
" style="fill: none; stroke: #933708; stroke-width: 1.5; stroke-linecap: round"/>
<g>
<use href="#m6694433b43" x="794.786" y="309.603701" style="fill: #933708; stroke: #ffffff; stroke-width: 0.75"/>
</g>
</g>
<g id="text_31" transform="translate(0.0000 0.6043)">
<text style="font-size: 14px; font-family: 'DejaVu Sans', 'Liberation Sans', sans-serif; text-anchor: start; fill: #262626" x="819.986" y="314.503701" transform="rotate(-0 819.986 314.503701)">Radio contribution mean</text>
</g>
<g id="line2d_48" transform="translate(0.0000 0.2269)">
<path d="M 780.786 330.447076 
L 794.786 330.447076 
L 808.786 330.447076 
" style="fill: none; stroke-dasharray: 5.55,2.4; stroke-dashoffset: 0; stroke: #933708; stroke-width: 1.5"/>
</g>
<g id="text_32" transform="translate(0.0000 0.2269)">
<text style="font-size: 14px; font-family: 'DejaVu Sans', 'Liberation Sans', sans-serif; text-anchor: start; fill: #262626" x="819.986" y="335.347076" transform="rotate(-0 819.986 335.347076)">Radio current total input</text>
</g>
<g id="patch_8" transform="translate(0.0000 0.1915)">
<path d="M 780.786 356.190451 
L 808.786 356.190451 
L 808.786 346.390451 
L 780.786 346.390451 
z
" style="fill: #65e5f3; fill-opacity: 0.4; stroke: #65e5f3; stroke-opacity: 0.4; stroke-linejoin: miter"/>
</g>
<g id="text_33" transform="translate(0.3960 0.1915)">
<text style="font-size: 14px; font-family: 'DejaVu Sans', 'Liberation Sans', sans-serif; text-anchor: start; fill: #262626" x="819.986" y="356.190451" transform="rotate(-0 819.986 356.190451)">Social Media 94% HDI contribution</text>
</g>
<g id="line2d_49" transform="translate(0.0000 0.0662)">
<path d="M 780.786 372.133826 
L 794.786 372.133826 
L 808.786 372.133826 
" style="fill: none; stroke: #65e5f3; stroke-width: 1.5; stroke-linecap: round"/>
<g>
<use href="#md48689d4b8" x="794.786" y="372.133826" style="fill: #65e5f3; stroke: #ffffff; stroke-width: 0.75"/>
</g>
</g>
<g id="text_34" transform="translate(0.0000 0.0662)">
<text style="font-size: 14px; font-family: 'DejaVu Sans', 'Liberation Sans', sans-serif; text-anchor: start; fill: #262626" x="819.986" y="377.033826" transform="rotate(-0 819.986 377.033826)">Social Media contribution mean</text>
</g>
<g id="line2d_50" transform="translate(0.0000 -0.1672)">
<path d="M 780.786 392.977201 
L 794.786 392.977201 
L 808.786 392.977201 
" style="fill: none; stroke-dasharray: 5.55,2.4; stroke-dashoffset: 0; stroke: #65e5f3; stroke-width: 1.5"/>
</g>
<g id="text_35" transform="translate(0.0000 -0.1672)">
<text style="font-size: 14px; font-family: 'DejaVu Sans', 'Liberation Sans', sans-serif; text-anchor: start; fill: #262626" x="819.986" y="397.877201" transform="rotate(-0 819.986 397.877201)">Social Media current total input</text>
</g>
<g id="patch_9" transform="translate(0.0000 -0.0046)">
<path d="M 780.786 418.720576 
L 808.786 418.720576 
L 808.786 408.920576 
L 780.786 408.920576 
z
" style="fill: #e6e135; fill-opacity: 0.4; stroke: #e6e135; stroke-opacity: 0.4; stroke-linejoin: miter"/>
</g>
<g id="text_36" transform="translate(0.3960 -0.0046)">
<text style="font-size: 14px; font-family: 'DejaVu Sans', 'Liberation Sans', sans-serif; text-anchor: start; fill: #262626" x="819.986" y="418.720576" transform="rotate(-0 819.986 418.720576)">TV 94% HDI contribution</text>
</g>
<g id="line2d_51" transform="translate(0.0000 -0.2020)">
<path d="M 780.786 434.663951 
L 794.786 434.663951 
L 808.786 434.663951 
" style="fill: none; stroke: #e6e135; stroke-width: 1.5; stroke-linecap: round"/>
<g>
<use href="#m30235572fa" x="794.786" y="434.663951" style="fill: #e6e135; stroke: #ffffff; stroke-width: 0.75"/>
</g>
</g>
<g id="text_37" transform="translate(0.0000 -0.2020)">
<text style="font-size: 14px; font-family: 'DejaVu Sans', 'Liberation Sans', sans-serif; text-anchor: start; fill: #262626" x="819.986" y="439.563951" transform="rotate(-0 819.986 439.563951)">TV contribution mean</text>
</g>
<g id="line2d_52" transform="translate(0.0000 -0.4533)">
<path d="M 780.786 455.507326 
L 794.786 455.507326 
L 808.786 455.507326 
" style="fill: none; stroke-dasharray: 5.55,2.4; stroke-dashoffset: 0; stroke: #e6e135; stroke-width: 1.5"/>
</g>
<g id="text_38" transform="translate(0.0000 -0.4533)">
<text style="font-size: 14px; font-family: 'DejaVu Sans', 'Liberation Sans', sans-serif; text-anchor: start; fill: #262626" x="819.986" y="460.407326" transform="rotate(-0 819.986 460.407326)">TV current total input</text>
</g>
</g>
</g>
</g>
<defs>
<clipPath id="p903fa9d953">
<rect x="38.16" y="25.2" width="730.026" height="444.204"/>
</clipPath>
</defs>
</svg>

</body></html>
